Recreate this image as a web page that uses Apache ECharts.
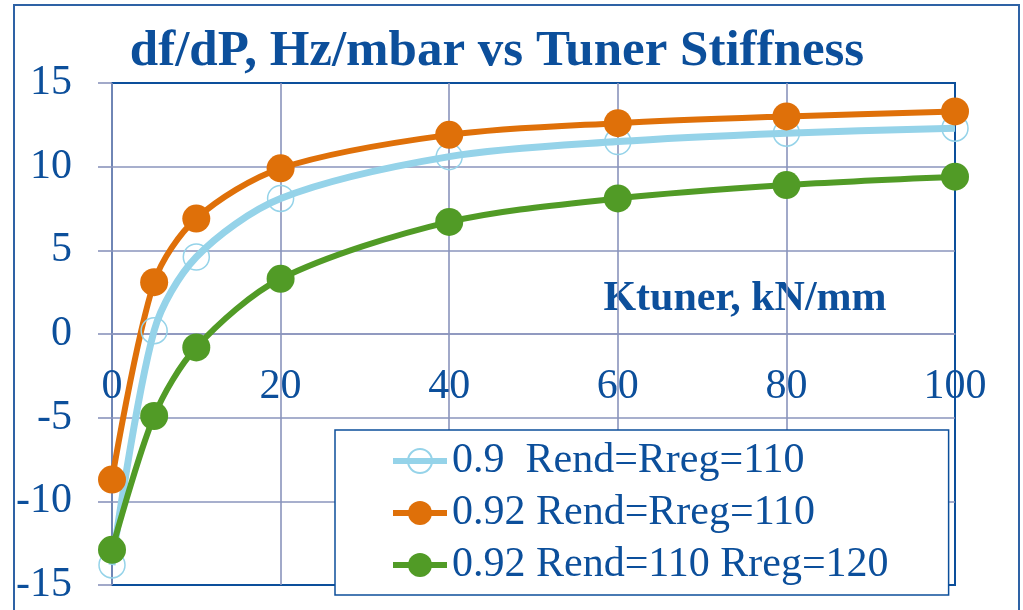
<!DOCTYPE html>
<html>
<head>
<meta charset="utf-8">
<script src="https://cdn.jsdelivr.net/npm/echarts@6/dist/echarts.min.js"></script>
<style>
  html, body { margin: 0; padding: 0; background: #ffffff; }
  #chart { width: 1023px; height: 610px; }
</style>
</head>
<body>
<div id="chart"></div>
<script>
// Tuner stiffness (kN/mm) at which df/dP was evaluated
const stiffness = [0, 5, 10, 20, 40, 60, 80, 100];

// Legend labels of the three cases
const caseNames = ['0.9  Rend=Rreg=110', '0.92 Rend=Rreg=110', '0.92 Rend=110 Rreg=120'];

// df/dP, Hz/mbar for each case
const dfdpBeta090 = [-13.8, 0.2, 4.6, 8.1, 10.6, 11.5, 12.0, 12.3];
const dfdpBeta092 = [-8.7, 3.1, 6.9, 9.9, 11.9, 12.6, 13.0, 13.3];
const dfdpBeta092Rreg120 = [-12.9, -4.9, -0.8, 3.3, 6.7, 8.1, 8.9, 9.4];

// Axis tick values
const xTicks = [0, 20, 40, 60, 80, 100];
const yTicks = [-15, -10, -5, 0, 5, 10, 15];

const titleText = 'df/dP, Hz/mbar vs Tuner Stiffness';
const xAxisTitle = 'Ktuner, kN/mm';

const NAVY = '#0c4f9b';
const GRID = '#8a94bc';
const LIGHT_BLUE = '#95d3e9';
const ORANGE = '#df7009';
const GREEN = '#519b26';
const SERIF = '"Liberation Serif", "Times New Roman", serif';

const CHART_H = 610;
const GRID_TOP = 83;
const GRID_BOTTOM = 25;

const yMin = yTicks[0];
const yMax = yTicks[yTicks.length - 1];

// The stiffness axis crosses the plot at df/dP = 0: shift it up from the bottom edge
const plotHeight = CHART_H - GRID_TOP - GRID_BOTTOM;
const xAxisShift = -plotHeight * (0 - yMin) / (yMax - yMin);

const pairs = ys => stiffness.map((x, i) => [x, ys[i]]);

const chart = echarts.init(document.getElementById('chart'), null, { renderer: 'canvas' });

chart.setOption({
  animation: false,
  backgroundColor: '#ffffff',
  textStyle: { fontFamily: SERIF },
  grid: {
    left: 112, right: 68, top: GRID_TOP, bottom: GRID_BOTTOM,
    containLabel: false,
    outerBoundsMode: 'none',
    show: true,
    borderColor: NAVY,
    borderWidth: 2,
    backgroundColor: 'transparent'
  },
  xAxis: {
    type: 'value',
    position: 'bottom',
    offset: xAxisShift,
    min: xTicks[0],
    max: xTicks[xTicks.length - 1],
    interval: xTicks[1] - xTicks[0],
    axisLine: { onZero: false, lineStyle: { color: GRID, width: 1.6 } },
    axisTick: { show: false },
    axisLabel: {
      color: NAVY, fontFamily: SERIF, fontSize: 42,
      margin: 53, verticalAlign: 'middle', hideOverlap: false
    },
    splitLine: { show: true, showMinLine: true, showMaxLine: false, lineStyle: { color: GRID, width: 1.6 } }
  },
  yAxis: {
    type: 'value',
    min: yMin,
    max: yMax,
    interval: yTicks[1] - yTicks[0],
    axisLine: { show: false, onZero: false },
    axisTick: { show: true, length: 14, lineStyle: { color: GRID, width: 1.6 } },
    axisLabel: { color: NAVY, fontFamily: SERIF, fontSize: 42, margin: 40 },
    splitLine: { show: true, showMinLine: false, showMaxLine: false, lineStyle: { color: GRID, width: 1.6 } }
  },
  legend: {
    orient: 'vertical',
    left: 335,
    top: 430,
    padding: [10, 60, 9, 55],
    itemGap: 10,
    itemWidth: 54,
    itemHeight: 30,
    backgroundColor: '#ffffff',
    borderColor: NAVY,
    borderWidth: 1.5,
    lineStyle: { width: 6 },
    textStyle: { color: NAVY, fontFamily: SERIF, fontSize: 42, lineHeight: 42 },
    data: caseNames
  },
  graphic: [
    {
      type: 'rect',
      z: -10,
      silent: true,
      shape: { x: 14, y: 5, width: 1005, height: 640 },
      style: { fill: 'none', stroke: '#2e62a5', lineWidth: 2 }
    },
    {
      type: 'text',
      silent: true,
      style: {
        text: titleText, x: 497, y: 52,
        textAlign: 'center', textVerticalAlign: 'middle',
        font: 'bold 51px ' + SERIF, fill: NAVY
      }
    },
    {
      type: 'text',
      silent: true,
      style: {
        text: xAxisTitle, x: 745, y: 299,
        textAlign: 'center', textVerticalAlign: 'middle',
        font: 'bold 42px ' + SERIF, fill: NAVY
      }
    }
  ],
  series: [
    {
      name: caseNames[0],
      type: 'line',
      smooth: 0.3,
      data: pairs(dfdpBeta090),
      symbol: 'circle',
      symbolSize: 26,
      itemStyle: { color: 'rgba(255,255,255,0)', borderColor: LIGHT_BLUE, borderWidth: 1.5 },
      lineStyle: { color: LIGHT_BLUE, width: 7 },
      emphasis: { disabled: true }
    },
    {
      name: caseNames[1],
      type: 'line',
      smooth: 0.3,
      data: pairs(dfdpBeta092),
      symbol: 'circle',
      symbolSize: 28,
      itemStyle: { color: ORANGE },
      lineStyle: { color: ORANGE, width: 6 },
      emphasis: { disabled: true }
    },
    {
      name: caseNames[2],
      type: 'line',
      smooth: 0.3,
      data: pairs(dfdpBeta092Rreg120),
      symbol: 'circle',
      symbolSize: 28,
      itemStyle: { color: GREEN },
      lineStyle: { color: GREEN, width: 6 },
      emphasis: { disabled: true }
    }
  ]
});
</script>
</body>
</html>
